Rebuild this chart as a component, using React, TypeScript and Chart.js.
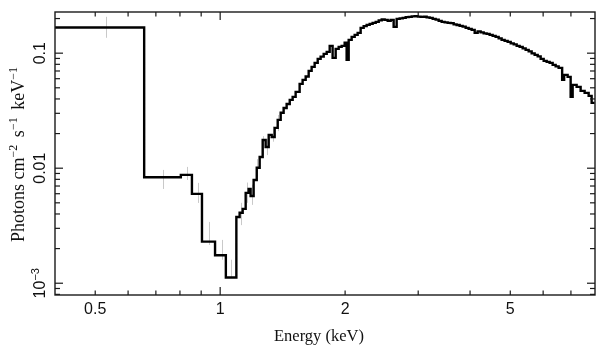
import React, { useEffect, useRef } from "react";
import { Chart, registerables } from "chart.js";

Chart.register(...registerables);

// Bin edges (keV) of the folded model histogram
const binEdges = [
  0.4, 0.656, 0.804, 0.855, 0.904, 0.972, 1.032, 1.094, 1.114, 1.133, 1.152, 1.171, 1.184,
  1.204, 1.225, 1.245, 1.266, 1.287, 1.309, 1.331, 1.353, 1.376, 1.399, 1.422, 1.446, 1.471,
  1.495, 1.52,
  1.554, 1.58, 1.607, 1.634, 1.661, 1.689, 1.718, 1.746, 1.776, 1.806, 1.836, 1.866, 1.898,
  1.93, 1.962,
  1.995, 2.017, 2.04,
  2.074, 2.109, 2.144, 2.18, 2.217, 2.254, 2.292, 2.33, 2.37, 2.41,
  2.45, 2.491, 2.533, 2.575, 2.618, 2.662, 2.707, 2.753, 2.799, 2.846,
  2.894, 2.942, 2.991, 3.041, 3.092, 3.144, 3.197, 3.251, 3.305, 3.361,
  3.417, 3.474, 3.533, 3.592, 3.652, 3.713, 3.776, 3.839, 3.904, 3.969,
  4.036, 4.104, 4.172, 4.242, 4.314, 4.386, 4.459, 4.534, 4.61, 4.688,
  4.766, 4.846, 4.928, 5.012, 5.096, 5.181, 5.267, 5.356, 5.445, 5.537,
  5.63, 5.724, 5.821, 5.918, 6.018, 6.119, 6.22, 6.325, 6.431,
  6.539, 6.667, 6.741, 6.873, 6.989, 7.067, 7.225, 7.387, 7.553, 7.723, 7.852,
  7.984,
];

// Flux per bin (photons cm^-2 s^-1 keV^-1)
const binFlux = [
  0.167, 0.00835, 0.00875, 0.00598, 0.0023, 0.00175, 0.00112, 0.00377, 0.0041, 0.00443,
  0.0061, 0.0066, 0.00574, 0.0079, 0.0101, 0.0125, 0.0176, 0.0153, 0.0195, 0.0187, 0.0224,
  0.0263, 0.0303, 0.0334, 0.0362, 0.0393, 0.0417, 0.0461,
  0.0541, 0.0586, 0.0626, 0.0702, 0.076, 0.0823, 0.0892, 0.0934, 0.0986, 0.1026, 0.1157,
  0.091, 0.109, 0.1134, 0.1157,
  0.1236, 0.0875, 0.1305,
  0.1386, 0.1443, 0.1502, 0.166, 0.1717, 0.1762, 0.1798, 0.1834, 0.1872, 0.1929,
  0.196, 0.1948, 0.191, 0.1948, 0.1693, 0.1988, 0.2008, 0.2028, 0.2058, 0.2069,
  0.2089, 0.2098, 0.2079, 0.2069, 0.2075, 0.2048, 0.2028, 0.1988, 0.1958, 0.191,
  0.1872, 0.1853, 0.1834, 0.1823, 0.178, 0.1755, 0.1727, 0.1703, 0.166, 0.1627,
  0.1594, 0.1502, 0.1547, 0.1516, 0.1487, 0.1472, 0.1443, 0.1414, 0.1386, 0.1345,
  0.1305, 0.128, 0.1254, 0.1217, 0.1193, 0.1157, 0.1134, 0.1101, 0.1068, 0.1037,
  0.0996, 0.0966, 0.0938, 0.0892, 0.0857, 0.084, 0.0823, 0.0791, 0.0768,
  0.0745, 0.0586, 0.0648, 0.0622, 0.0417, 0.053, 0.0509, 0.047, 0.0452, 0.0425, 0.037,
];

// Faint data error bars
const dataEnergy = [0.53, 0.73, 0.83, 0.883, 0.938, 1.008, 1.06, 1.12, 1.16, 1.19, 1.23, 1.27, 1.3, 1.34, 1.38];
const dataLow = [0.136, 0.0066, 0.0079, 0.00499, 0.00215, 0.0016, 0.00111, 0.0032, 0.005, 0.0048, 0.0085, 0.013, 0.013, 0.017, 0.021];
const dataHigh = [0.207, 0.00966, 0.01026, 0.00745, 0.00341, 0.00238, 0.0016, 0.005, 0.0075, 0.0072, 0.012, 0.019, 0.018, 0.023, 0.029];

// Axes
const xMin = 0.4;
const xMax = 8;
const yMin = 0.00079;
const yMax = 0.228;
const xMajorTicks = [1];
const xMinorTicks = [0.5, 0.6, 0.7, 0.8, 0.9, 2, 3, 4, 5, 6, 7];
const xTickLabels = [
  { v: 0.5, t: "0.5" },
  { v: 1, t: "1" },
  { v: 2, t: "2" },
  { v: 5, t: "5" },
];
const yMajorTicks = [0.001, 0.01, 0.1];
const yMinorTicks = [
  0.0008, 0.0009, 0.002, 0.003, 0.004, 0.005, 0.006, 0.007, 0.008, 0.009,
  0.02, 0.03, 0.04, 0.05, 0.06, 0.07, 0.08, 0.09, 0.2,
];
const yTickLabels = [
  { v: 0.1, t: "0.1", sup: "" },
  { v: 0.01, t: "0.01", sup: "" },
  { v: 0.001, t: "10", sup: "\u22123" },
];
const xTitle = "Energy (keV)";
const yTitleParts = [
  { t: "Photons cm", sup: false },
  { t: "\u22122", sup: true },
  { t: " s", sup: false },
  { t: "\u22121", sup: true },
  { t: " keV", sup: false },
  { t: "\u22121", sup: true },
];

const SANS = "'Liberation Sans', Arial, sans-serif";
const SERIF = "'Liberation Serif', 'Times New Roman', serif";

const framePlugin = {
  id: "xspecFrame",
  beforeDatasetsDraw(chart: any) {
    const { ctx, scales } = chart;
    const xs = scales.x;
    const ys = scales.y;
    ctx.save();
    ctx.strokeStyle = "#c9c9c9";
    ctx.lineWidth = 1;
    for (let i = 0; i < dataEnergy.length; i++) {
      const px = Math.round(xs.getPixelForValue(dataEnergy[i])) + 0.5;
      ctx.beginPath();
      ctx.moveTo(px, ys.getPixelForValue(dataLow[i]));
      ctx.lineTo(px, ys.getPixelForValue(dataHigh[i]));
      ctx.stroke();
    }
    ctx.restore();
  },
  afterDraw(chart: any) {
    const { ctx, chartArea, scales } = chart;
    const xs = scales.x;
    const ys = scales.y;
    const { left, right, top, bottom } = chartArea;
    ctx.save();
    ctx.strokeStyle = "#1a1a1a";
    ctx.lineWidth = 1.4;
    ctx.strokeRect(left, top, right - left, bottom - top);

    const tick = (x1: number, y1: number, x2: number, y2: number) => {
      ctx.beginPath();
      ctx.moveTo(x1, y1);
      ctx.lineTo(x2, y2);
      ctx.stroke();
    };
    ctx.lineWidth = 1.2;
    xMajorTicks.forEach((v) => {
      const p = xs.getPixelForValue(v);
      tick(p, bottom, p, bottom - 8);
      tick(p, top, p, top + 8);
    });
    xMinorTicks.forEach((v) => {
      const p = xs.getPixelForValue(v);
      tick(p, bottom, p, bottom - 4.5);
      tick(p, top, p, top + 4.5);
    });
    yMajorTicks.forEach((v) => {
      const p = ys.getPixelForValue(v);
      tick(left, p, left + 8, p);
      tick(right, p, right - 8, p);
    });
    yMinorTicks.forEach((v) => {
      const p = ys.getPixelForValue(v);
      tick(left, p, left + 5, p);
      tick(right, p, right - 5, p);
    });

    // x tick labels
    ctx.fillStyle = "#111";
    ctx.font = `16px ${SANS}`;
    ctx.textAlign = "center";
    ctx.textBaseline = "alphabetic";
    xTickLabels.forEach((l) => {
      ctx.fillText(l.t, xs.getPixelForValue(l.v), 313.5);
    });

    // y tick labels (rotated)
    yTickLabels.forEach((l) => {
      const p = ys.getPixelForValue(l.v);
      ctx.save();
      ctx.translate(39, p);
      ctx.rotate(-Math.PI / 2);
      ctx.font = `16px ${SANS}`;
      const w1 = ctx.measureText(l.t).width;
      ctx.font = `11px ${SANS}`;
      const w2 = l.sup ? ctx.measureText(l.sup).width : 0;
      const start = -(w1 + w2) / 2;
      ctx.textAlign = "left";
      ctx.font = `16px ${SANS}`;
      ctx.fillText(l.t, start, 6);
      if (l.sup) {
        ctx.font = `11px ${SANS}`;
        ctx.fillText(l.sup, start + w1, 0);
      }
      ctx.restore();
    });

    // x title
    ctx.font = `16.5px ${SERIF}`;
    ctx.textAlign = "center";
    ctx.fillText(xTitle, 319, 341);

    // y title (rotated, with superscripts)
    ctx.save();
    ctx.translate(17.5, 153);
    ctx.rotate(-Math.PI / 2);
    ctx.textAlign = "left";
    const gap = 3;
    let total = 0;
    const widths = yTitleParts.map((p) => {
      ctx.font = p.sup ? `12px ${SERIF}` : `18px ${SERIF}`;
      const w = ctx.measureText(p.t).width + (p.sup ? gap : 0);
      total += w;
      return w;
    });
    let cx = -total / 2;
    yTitleParts.forEach((p, i) => {
      ctx.font = p.sup ? `12px ${SERIF}` : `18px ${SERIF}`;
      ctx.fillText(p.t, cx, p.sup ? -1 : 6);
      cx += widths[i];
    });
    ctx.restore();
    ctx.restore();
  },
};

export default function App() {
  const canvasRef = useRef<HTMLCanvasElement | null>(null);

  useEffect(() => {
    const canvas = canvasRef.current;
    if (!canvas) return;
    const n = Math.min(binEdges.length - 1, binFlux.length);
    const pts: { x: number; y: number }[] = [];
    for (let i = 0; i < n; i++) pts.push({ x: binEdges[i], y: binFlux[i] });
    pts.push({ x: binEdges[n], y: binFlux[n - 1] });

    const chart = new Chart(canvas, {
      type: "line",
      data: {
        datasets: [
          {
            data: pts,
            stepped: true,
            borderColor: "#000",
            borderWidth: 2.4,
            pointRadius: 0,
            fill: false,
            tension: 0,
          } as any,
        ],
      },
      options: {
        animation: false,
        responsive: false,
        maintainAspectRatio: false,
        layout: { padding: { left: 55, top: 12, right: 14, bottom: 62 } },
        plugins: { legend: { display: false }, tooltip: { enabled: false } },
        scales: {
          x: { type: "logarithmic", min: xMin, max: xMax, display: false },
          y: { type: "logarithmic", min: yMin, max: yMax, display: false },
        },
      },
      plugins: [framePlugin],
    });
    return () => chart.destroy();
  }, []);

  return (
    <div style={{ position: "fixed", left: 0, top: 0, width: 609, height: 357, background: "#fff" }}>
      <canvas ref={canvasRef} width={609} height={357} style={{ display: "block", width: 609, height: 357 }} />
    </div>
  );
}
